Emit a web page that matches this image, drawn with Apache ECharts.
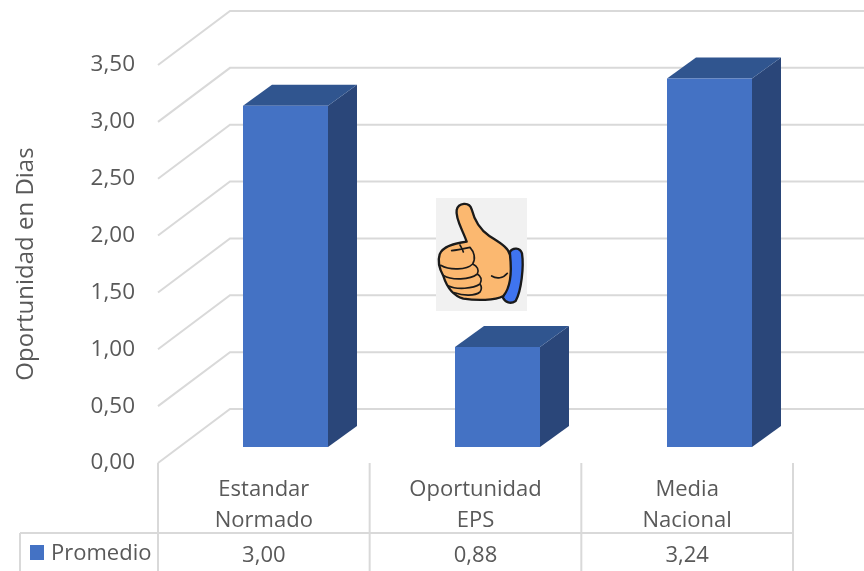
<!DOCTYPE html>
<html>
<head>
<meta charset="utf-8">
<style>html,body{margin:0;padding:0;background:#fff}#c{width:864px;height:571px}</style>
<script src="https://cdn.jsdelivr.net/npm/echarts@6/dist/echarts.min.js"></script>
</head>
<body>
<div id="c"></div>
<script>
const categories = ['Estandar\nNormado', 'Oportunidad\nEPS', 'Media\nNacional'];
const promedio = [3.00, 0.88, 3.24];
const yTicks = [0, 0.5, 1, 1.5, 2, 2.5, 3, 3.5];
const seriesName = 'Promedio';
const axisName = 'Oportunidad en Dias';

const FONT = '"Open Sans", sans-serif';
const TXT = '#595959', GRID = '#d9d9d9';
const FRONT = '#4472C4', SIDE = '#2A4679', TOP = '#30558F';
const fmt = v => v.toFixed(2).replace('.', ',');
const chart = echarts.init(document.getElementById('c'), null, {renderer: 'canvas'});

const DX = 72, DY = 54;          // wall depth
const BDX = 22, BDY = 16;        // bar front plane
const BW = 29, BH = 21;          // bar depth
const TABLE_Y = 533, TABLE_END = 571, TABLE_LEFT = 20;

function wall(params, api) {
  const p = api.coord([0, api.value(1)]);
  const cs = params.coordSys;
  const x0 = cs.x, y = p[1];
  const ls = {stroke: GRID, lineWidth: 2, fill: null};
  return {type: 'polyline', shape: {points: [[x0, y], [x0 + DX, y - DY], [cs.x + cs.width + DX, y - DY]]},
          style: ls, silent: true};
}
function bar(params, api) {
  const top = api.coord([api.value(0), api.value(1)]);
  const base = api.coord([api.value(0), 0]);
  const w = Math.round(api.size([1, 0])[0] * 0.4);
  const x0 = Math.round(top[0] - w / 2 + BDX), x1 = x0 + w;
  const yT = top[1] - BDY, yB = base[1] - BDY;
  return {type: 'group', children: [
    {type: 'polygon', shape: {points: [[x1, yT], [x1 + BW, yT - BH], [x1 + BW, yB - BH], [x1, yB]]}, style: {fill: SIDE}},
    {type: 'polygon', shape: {points: [[x0, yT], [x0 + BW, yT - BH], [x1 + BW, yT - BH], [x1, yT]]}, style: {fill: TOP}},
    {type: 'rect', shape: {x: x0, y: yT, width: w, height: yB - yT}, style: {fill: FRONT}}
  ]};
}
function table(params, api) {
  const i = api.value(0);
  const c = api.coord([i, 0]);
  const cw = api.size([1, 0])[0];
  const x = c[0] + cw / 2;
  const ls = {stroke: GRID, lineWidth: 2};
  const kids = [
    {type: 'line', shape: {x1: x, y1: c[1], x2: x, y2: TABLE_END}, style: ls},
    {type: 'text', style: {x: c[0], y: 556, text: fmt(api.value(1)), font: '22px ' + FONT, fill: TXT, align: 'center', verticalAlign: 'middle'}}
  ];
  if (i === 0) {
    const xl = c[0] - cw / 2;
    kids.push(
      {type: 'line', shape: {x1: xl, y1: c[1], x2: xl, y2: TABLE_END}, style: ls},
      {type: 'line', shape: {x1: TABLE_LEFT, y1: TABLE_Y, x2: params.coordSys.x + params.coordSys.width, y2: TABLE_Y}, style: ls},
      {type: 'line', shape: {x1: TABLE_LEFT, y1: TABLE_Y, x2: TABLE_LEFT, y2: TABLE_END}, style: ls},
      {type: 'rect', shape: {x: 30, y: 545, width: 14, height: 15}, style: {fill: FRONT}},
      {type: 'text', style: {x: 51, y: 554, text: seriesName, font: '22px ' + FONT, fill: TXT, align: 'left', verticalAlign: 'middle'}}
    );
  }
  return {type: 'group', children: kids};
}

const HAND = 'M140 155 C128 120 105 85 110 60 C115 38 148 34 155 58 C163 90 178 118 208 138 C238 158 266 172 270 195 C275 240 272 292 250 318 C225 332 170 332 130 326 C102 318 82 296 70 258 C60 240 52 215 59 193 C68 168 105 160 140 155 Z';
const CUFF = 'M270 185 C278 172 300 172 306 190 C312 230 304 302 287 333 C272 343 256 338 248 322 C262 295 272 240 270 185 Z';
const FINGERS = 'M62 226 C90 242 140 240 158 222 C168 205 162 185 150 172 M95 182 C110 180 130 176 150 172 M120 165 C124 172 128 178 130 186 M70 256 C95 272 150 270 172 252 C178 240 172 228 158 222 M84 287 C110 300 160 296 180 282 C187 268 182 258 172 252 M104 308 C130 318 165 318 180 306 C187 296 184 288 180 282 M215 258 C230 268 250 265 262 250';
echarts.graphic.registerShape('thumbHand', echarts.graphic.extendPath(HAND, {}));
echarts.graphic.registerShape('thumbCuff', echarts.graphic.extendPath(CUFF, {}));
echarts.graphic.registerShape('thumbFingers', echarts.graphic.extendPath(FINGERS, {}));
const hand = (type, style) => ({type, z: 20, x: 420, y: 190, scaleX: 1/3, scaleY: 1/3, silent: true, style});

chart.setOption({
  animation: false,
  backgroundColor: '#fff',
  grid: {left: 158, top: 65, width: 635, height: 398},
  xAxis: {
    type: 'category', data: categories, boundaryGap: true,
    axisLine: {show: false}, axisTick: {show: false}, splitLine: {show: false},
    axisLabel: {color: TXT, fontFamily: FONT, fontSize: 22, lineHeight: 31, margin: 11, interval: 0}
  },
  yAxis: {
    type: 'value', min: 0, max: 3.5, interval: 0.5,
    axisLine: {show: false}, axisTick: {show: false}, splitLine: {show: false},
    axisLabel: {color: TXT, fontFamily: FONT, fontSize: 22.5, margin: 23, formatter: fmt, padding: [8, 0, 0, 0]},
    name: axisName, nameLocation: 'middle', nameGap: 120, nameRotate: 90,
    nameTextStyle: {color: TXT, fontFamily: FONT, fontSize: 24}
  },
  series: [
    {type: 'custom', name: 'wall', z: 1, silent: true, renderItem: wall, encode: {x: 0, y: 1},
     data: yTicks.map(t => [0, t])},
    {type: 'custom', name: 'table', z: 1, silent: true, renderItem: table, encode: {x: 0, y: 2},
     data: promedio.map((v, i) => [i, v, 0])},
    {type: 'custom', name: seriesName, z: 3, renderItem: bar, encode: {x: 0, y: 1},
     data: promedio.map((v, i) => [i, v])}
  ],
  graphic: {elements: [
    {type: 'rect', z: 19, silent: true, shape: {x: 436, y: 198, width: 91, height: 113}, style: {fill: '#F1F1F1'}},
    hand('thumbCuff', {fill: '#3F74F0', stroke: '#1a1a1a', lineWidth: 7, lineJoin: 'round'}),
    hand('thumbHand', {fill: '#FBB870', stroke: '#1a1a1a', lineWidth: 7, lineJoin: 'round'}),
    hand('thumbFingers', {fill: 'none', stroke: '#1a1a1a', lineWidth: 5, lineCap: 'round'})
  ]}
});
</script>
</body>
</html>
